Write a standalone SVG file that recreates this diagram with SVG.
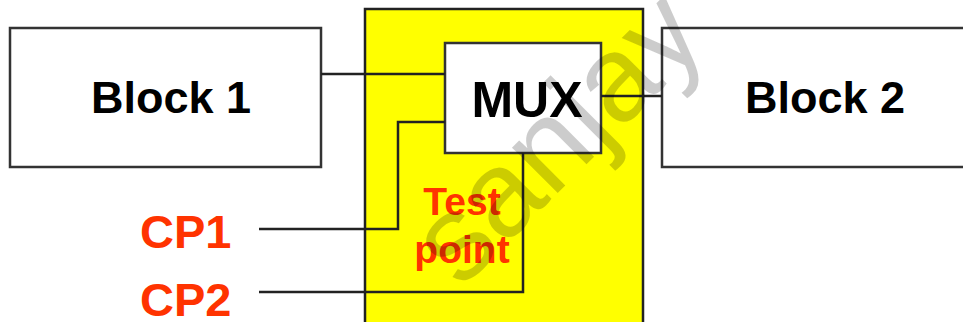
<svg xmlns="http://www.w3.org/2000/svg" width="963" height="322" viewBox="0 0 963 322">
<style>
.box{fill:#fff;stroke:#333;stroke-width:2.5}
.lbl{font-family:"Liberation Sans",Arial,sans-serif;font-weight:bold;fill:#000;text-anchor:middle}
.red{font-family:"Liberation Sans",Arial,sans-serif;font-weight:bold;fill:#ff3300}
.wire{fill:none;stroke:#222;stroke-width:2.5}
</style>
<rect width="963" height="322" fill="#fff"/>
<g id="testpoint-area">
<rect x="365" y="9" width="278" height="320" fill="#ffff00" stroke="#222" stroke-width="2.5"/>
</g>
<g id="block1">
<rect class="box" x="10" y="28" width="311" height="139"/>
<text class="lbl" x="171" y="113" font-size="45">Block 1</text>
</g>
<g id="block2">
<rect class="box" x="662" y="28" width="310" height="139"/>
<text class="lbl" x="825" y="113" font-size="45">Block 2</text>
</g>
<g id="mux">
<rect class="box" x="445" y="43" width="156" height="110"/>
<text class="lbl" x="527" y="117" font-size="50">MUX</text>
</g>
<g id="cp1"><text class="red" x="140" y="248" font-size="47">CP1</text></g>
<g id="cp2"><text class="red" x="140" y="316" font-size="47">CP2</text></g>
<g id="testpoint-label">
<text class="red" x="462" y="215" font-size="39" text-anchor="middle">Test</text>
<text class="red" x="462" y="263" font-size="39" text-anchor="middle">point</text>
</g>
<g id="connectors">
<path class="wire" d="M321 74 H445"/>
<path class="wire" d="M601 96 H662"/>
<path class="wire" d="M259 229 H398 V122 H445"/>
<path class="wire" d="M259 292 H523 V153"/>
</g>
<text x="555" y="178" font-family="Liberation Sans,Arial,sans-serif" font-size="122" fill="#000" fill-opacity="0.2" text-anchor="middle" transform="rotate(-45 555 135)">sanjay</text>
</svg>
